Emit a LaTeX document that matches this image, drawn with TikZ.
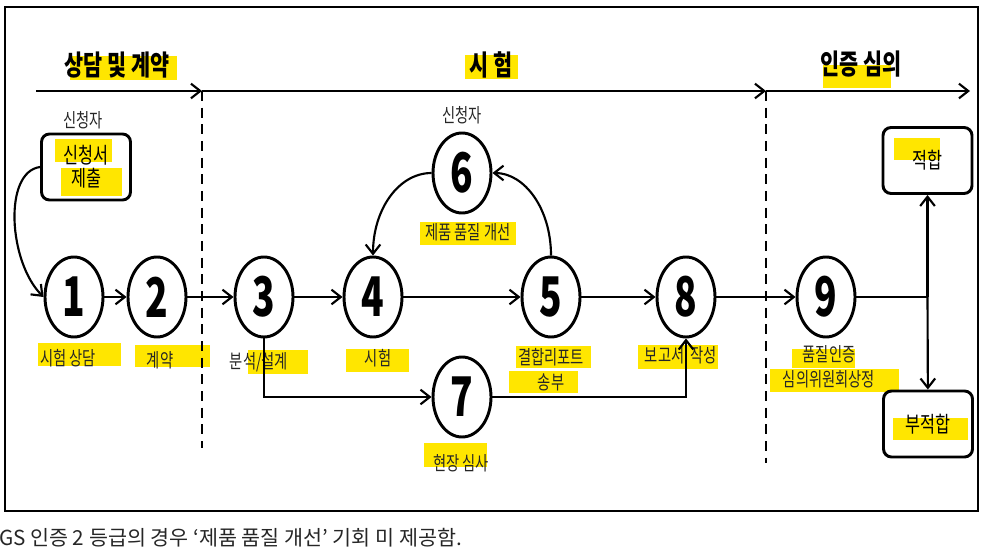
\documentclass[tikz,border=0pt]{standalone}
\usepackage{fontspec}
\usetikzlibrary{arrows.meta,shapes.geometric}
\setmainfont{Noto Sans CJK KR}
\newfontfamily\krfont[FakeStretch=0.74]{Noto Sans CJK KR}
\newfontfamily\numfont[FakeStretch=0.68]{Noto Sans CJK KR}
\newfontfamily\capfont{Noto Sans CJK KR}
\definecolor{hlyellow}{RGB}{255,230,0}

\begin{document}
\begin{tikzpicture}[x=0.75pt,y=-0.75pt,line width=1.6pt,>={Straight Barb[length=7pt,width=11pt]},
  main node/.style={ellipse,draw,line width=2.2pt,minimum width=43.5pt,minimum height=60pt,inner sep=0pt,font=\numfont\bfseries\fontsize{41}{41}\selectfont},
  result node/.style={draw,rounded corners=6pt,line width=2.2pt,minimum width=66.75pt,minimum height=49.5pt,align=center,font=\krfont\fontsize{16.5}{17.25}\selectfont},
  phase node/.style={inner sep=0pt,font=\krfont\bfseries\fontsize{21}{22}\selectfont},
  text node/.style={align=center,inner sep=0pt,text=black!85,font=\krfont\fontsize{14.5}{18.75}\selectfont},
  hl/.style={fill=hlyellow}]
    \useasboundingbox (0,0) rectangle (1005,559);
    \draw[line width=2.2pt] (5,7) rectangle (978,511);

    % yellow markers
    \fill[hl] (70,56) rectangle (177,80);
    \fill[hl] (465,55) rectangle (518,79);
    \fill[hl] (823,65) rectangle (891,88);
    \fill[hl] (55,139) rectangle (112,162);
    \fill[hl] (61,168) rectangle (122,196);
    \fill[hl] (420,222) rectangle (516,245);
    \fill[hl] (38,343) rectangle (121,366);
    \fill[hl] (135,345) rectangle (210,367);
    \fill[hl] (248,350) rectangle (308,374);
    \fill[hl] (346,349) rectangle (409,372);
    \fill[hl] (516,346) rectangle (591,368);
    \fill[hl] (509,371) rectangle (578,393);
    \fill[hl] (638,345) rectangle (718,369);
    \fill[hl] (792,349) rectangle (855,368);
    \fill[hl] (770,369) rectangle (899,392);
    \fill[hl] (424,443) rectangle (487,467);
    \fill[hl] (894,138) rectangle (940,160);
    \fill[hl] (893,418) rectangle (968,440);

    % time line
    \coordinate (t0) at (36,91);
    \coordinate (t1) at (202,91);
    \coordinate (t2) at (766,91);
    \coordinate (t3) at (970,91);
    \coordinate (d1) at (202,448);
    \coordinate (d2) at (766,463);
    \path[->] (t0) edge (t1) (t1) edge (t2) (t2) edge (t3);
    \draw[dash pattern=on 7.5pt off 5pt,line width=1.4pt] (t1) -- (d1) (t2) -- (d2);

    \node[phase node] (p1) at (117,65) {상담 및 계약};
    \node[phase node] (p2) at (491,65) {시\ 험};
    \node[phase node] (p3) at (861,64) {인증 심의};

    \node[main node] (1) at (74,297) {1};
    \node[main node] (2) at (157,297) {2};
    \node[main node] (3) at (264,297) {3};
    \node[main node] (4) at (373,297) {4};
    \node[main node] (5) at (551,297) {5};
    \node[main node] (6) at (462,173) {6};
    \node[main node] (7) at (462,397) {7};
    \node[main node] (8) at (686,297) {8};
    \node[main node] (9) at (826,297) {9};

    \node[result node] (apply) at (86,167) {신청서\\제출};
    \node[result node] (pass) at (927.5,160.5) {적합};
    \node[result node] (fail) at (928,424) {부적합};
    \coordinate (split) at (pass.south |- 9.east);

    \node[text node] (a1) at (83,120) {신청자};
    \node[text node] (a6) at (462,115) {신청자};
    \node[text node] (l1) at (68,358) {시험 상담};
    \node[text node] (l2) at (160,360) {계약};
    \node[text node] (l3) at (259,362) {분석/설계};
    \node[text node] (l4) at (378,358) {시험};
    \node[text node] (l5) at (551,369.5) {결합리포트\\송부};
    \node[text node] (l6) at (468,232) {제품 품질 개선};
    \node[text node] (l7) at (461,463) {현장 심사};
    \node[text node] (l8) at (681,355) {보고서\ \ 작성};
    \node[text node] (l9) at (829,366.5) {품질인증\\심의위원회상정};

    \path[->]
        (1) edge (2)
        (2) edge (3)
        (3) edge (4)
        (4) edge (5)
        (5) edge (8)
        (8) edge (9)
        (split) edge (pass)
        (split) edge (fail)
        ;
    \draw[->] (apply.west) .. controls +(-37,5) and +(-35,-35) .. (1.west);
    \draw[->] (5.north) .. controls +(0,-47) and +(32,0) .. (6.east);
    \draw[->] (6.west) .. controls +(-33,0) and +(0,-46) .. (4.north);
    \draw[->] (3.south) |- (7.west);
    \draw[->] (7.east) -| (8.south);
    \draw (9) -- (split);

    \node[anchor=west,inner sep=0pt,text=black!85,font=\capfont\fontsize{15.5}{17}\selectfont] (note) at (-2,538) {GS 인증 2 등급의 경우 ‘제품 품질 개선’ 기회 미 제공함.};
\end{tikzpicture}
\end{document}
